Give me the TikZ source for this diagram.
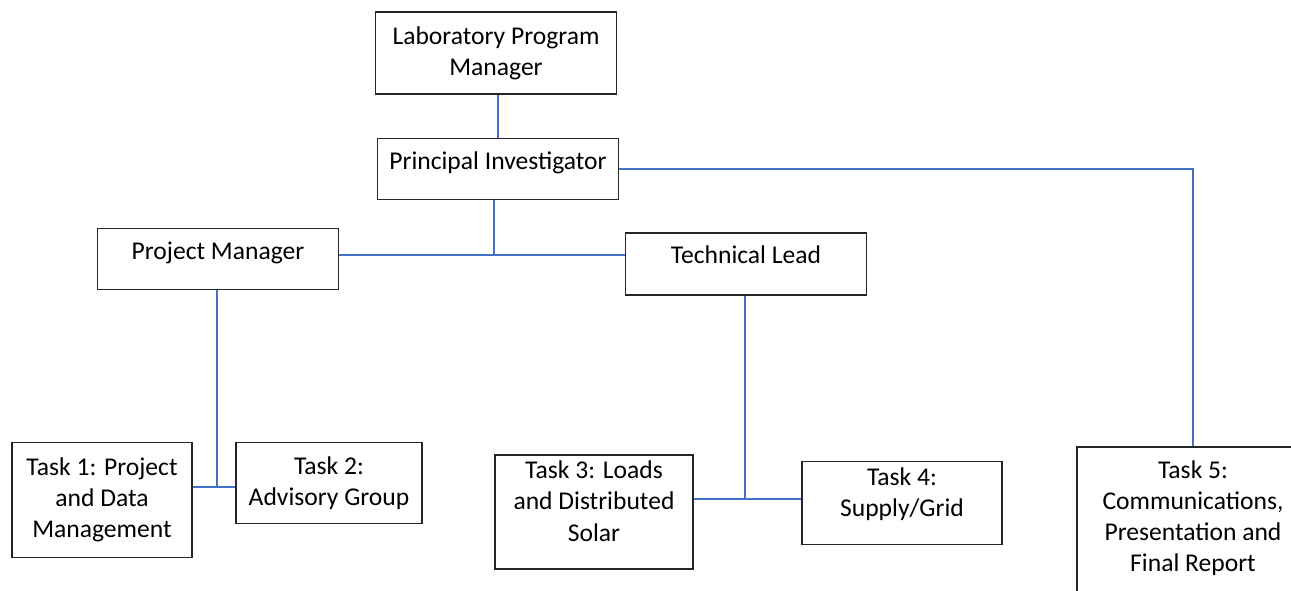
\documentclass[tikz,border=0pt]{standalone}
\usepackage{fontspec}
\setmainfont{Carlito}
\usetikzlibrary{positioning}
\definecolor{linkblue}{RGB}{68,114,196}

\begin{document}
\begin{tikzpicture}
[x=0.43pt,y=-0.43pt,
role/.style={rectangle,draw=black!85,line width=0.6pt,align=center,inner sep=0pt,font=\fontsize{11}{13.4}\selectfont},
wide/.style={role,minimum width=103.4pt,minimum height=26pt},
task/.style={role,minimum height=35pt},
link/.style={draw=linkblue,line width=0.6pt}]
\useasboundingbox (0,0) rectangle (1291,590);
\clip (0,0) rectangle (1291,590);
% top of the chart
\node (lpm) at (496,53) [role,minimum width=103.6pt,minimum height=35.3pt] {Laboratory Program\\Manager};
\node (pi) at (498,169) [wide,text depth=7pt] {Principal Investigator};
\node (pm) at (218,259) [wide,text depth=7pt] {Project Manager};
\node (tl) at (746,264) [wide,minimum height=26.7pt,text depth=8pt] {Technical Lead};
% tasks
\node (t1) at (102,500) [task,minimum width=77.4pt,minimum height=49.5pt] {Task 1: Project\\and Data\\Management};
\node (t2) at (329,483) [task,minimum width=80pt] {Task 2:\\Advisory Group};
\node (t3) at (594,512) [task,minimum width=85.1pt,minimum height=49pt,text depth=9.5pt] {Task 3: Loads\\and Distributed\\Solar};
\node (t4) at (902,503) [task,minimum width=86pt,minimum height=35.7pt,text depth=9.5pt] {Task 4:\\Supply/Grid};
\node (t5) at (1193,561) [task,minimum width=99.8pt,minimum height=98pt,text depth=38.5pt] {Task 5:\\Communications,\\Presentation and\\Final Report};
% junctions
\coordinate (ja) at (494,255);
\coordinate (jb) at (217,487);
\coordinate (jc) at (745,499);
% connectors
\draw [link] (lpm.south -| pi.north) -- (pi.north);
\draw [link] (pi.south -| ja) -- (ja);
\draw [link] (pm.east |- ja) -- (tl.west |- ja);
\draw [link] (pi.east) -| (t5.north);
\draw [link] (pm.south -| jb) -- (jb);
\draw [link] (t1.east |- jb) -- (t2.west |- jb);
\draw [link] (tl.south -| jc) -- (jc);
\draw [link] (t3.east |- jc) -- (t4.west |- jc);
\end{tikzpicture}
\end{document}
